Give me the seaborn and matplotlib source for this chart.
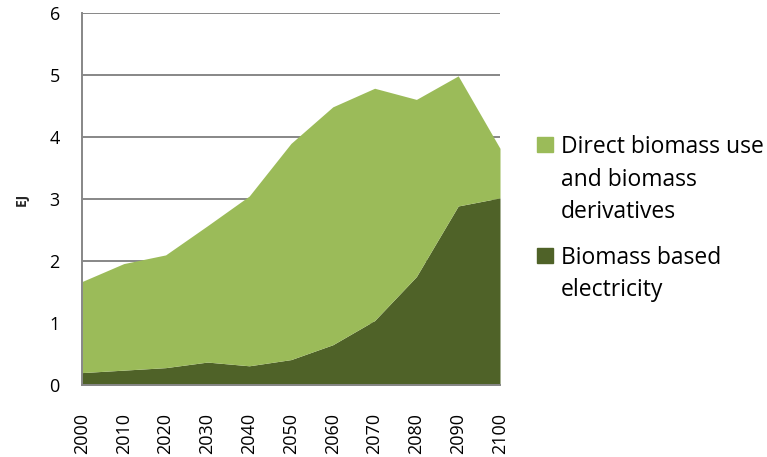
import matplotlib
matplotlib.use("Agg")
import matplotlib.pyplot as plt
from matplotlib.patches import Rectangle
import seaborn as sns

years = [2000, 2010, 2020, 2030, 2040, 2050, 2060, 2070, 2080, 2090, 2100]
electricity = [0.20, 0.24, 0.28, 0.37, 0.31, 0.41, 0.65, 1.04, 1.75, 2.89, 3.02]
total = [1.67, 1.96, 2.10, 2.57, 3.05, 3.90, 4.49, 4.79, 4.61, 4.99, 3.82]
direct = [t - e for t, e in zip(total, electricity)]

legend_lines = [["Direct biomass use", "and biomass", "derivatives"],
                ["Biomass based", "electricity"]]
colors = {"direct": "#9BBB59", "elec": "#4F6228"}

sns.set_theme(style="white")
plt.rcParams["font.family"] = ["Open Sans", "DejaVu Sans"]

W, H = 767, 457
fig = plt.figure(figsize=(W / 100, H / 100), dpi=100)
ax = fig.add_axes([82 / W, 1 - 385 / H, 418 / W, 371.7 / H])

ax.stackplot(years, electricity, direct,
             colors=[colors["elec"], colors["direct"]], linewidth=0, zorder=2)

ax.set_xlim(2000, 2100)
ax.set_ylim(0, 6)
ax.set_yticks(range(0, 7))
ax.set_xticks(years)
ax.set_xticklabels([str(y) for y in years], rotation=90)
ax.tick_params(axis="both", labelsize=13, length=0, colors="black")
ax.tick_params(axis="y", pad=16)
ax.tick_params(axis="x", pad=20)
ax.yaxis.grid(True, color="#878787", linewidth=1.4, zorder=1)
ax.set_axisbelow(True)

for side in ["top", "right"]:
    ax.spines[side].set_visible(False)
for side in ["left", "bottom"]:
    ax.spines[side].set_color("#878787")
    ax.spines[side].set_linewidth(1.4)
    ax.spines[side].set_zorder(3)

ax.set_ylabel("EJ", fontsize=10, fontweight="bold", labelpad=15)

# legend drawn by hand so the square sits on the first text line
baselines = [[153, 185.5, 218], [264, 296.5]]
for lines, base, key in zip(legend_lines, baselines, ["direct", "elec"]):
    fig.patches.append(Rectangle((537 / W, 1 - (base[0] - 1) / H), 16 / W, 15 / H,
                                 transform=fig.transFigure, color=colors[key]))
    for txt, b in zip(lines, base):
        fig.text(561 / W, 1 - b / H, txt, fontsize=16.5, va="baseline",
                 ha="left", color="black")

fig.savefig("out.png", dpi=100)
